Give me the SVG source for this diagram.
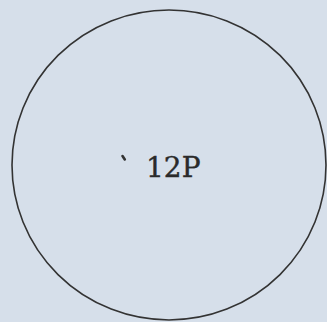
<svg xmlns="http://www.w3.org/2000/svg" width="327" height="322" viewBox="0 0 327 322">
<style>
.node-shape{fill:none;stroke:#333;stroke-width:1.6}
.label{font-family:"DejaVu Serif","Liberation Serif",serif;font-size:28px;fill:#2a2a2a;stroke:#2a2a2a;stroke-width:0.4}
</style>
<rect width="327" height="322" fill="#d6dfea"/>
<g id="node-12P">
<ellipse class="node-shape" cx="169" cy="165" rx="157" ry="155"/>
<path d="M122.5,156 L124.8,159.5" stroke="#333" stroke-width="2.6" stroke-linecap="round"/>
<text class="label" x="146" y="177">12P</text>
</g>
<g id="connectors"/>
</svg>
